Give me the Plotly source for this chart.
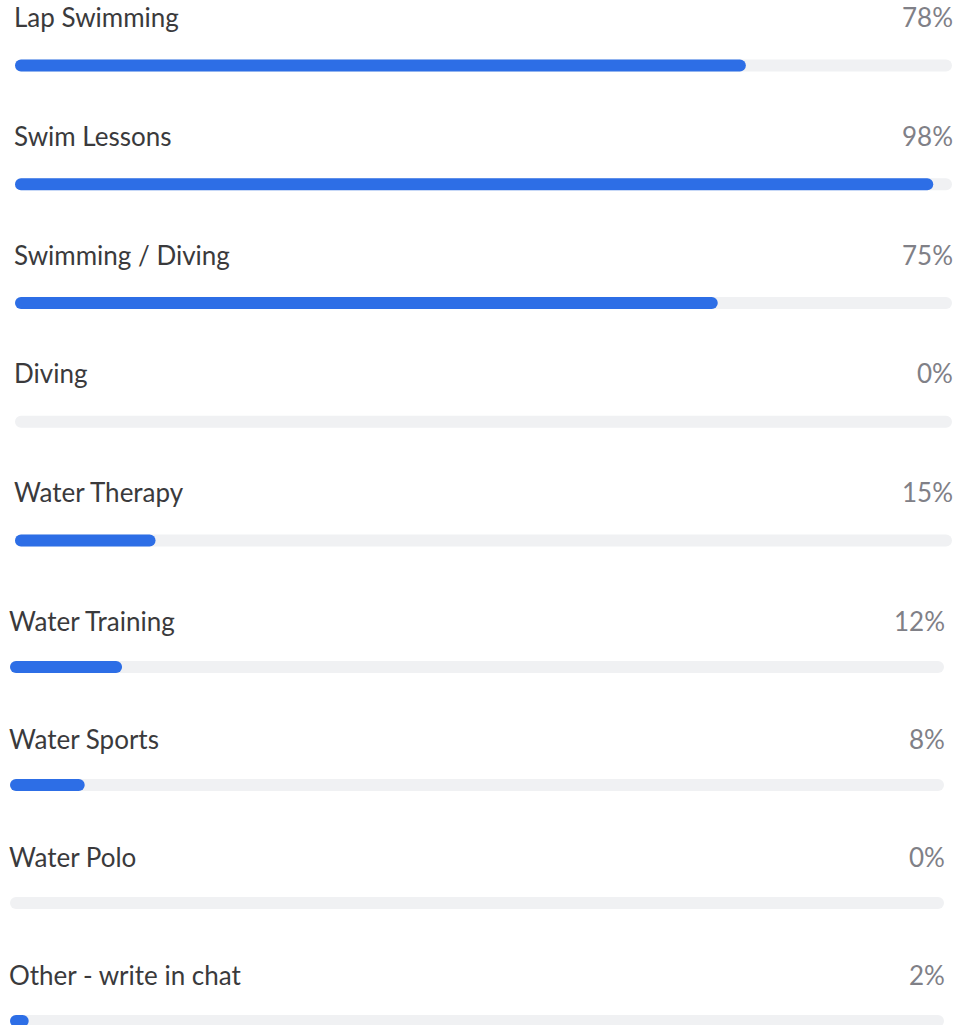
import plotly.graph_objects as go

# Poll options and their share of responses (%)
top_options = ["Lap Swimming", "Swim Lessons", "Swimming / Diving", "Diving", "Water Therapy"]
top_values = [78, 98, 75, 0, 15]
bottom_options = ["Water Training", "Water Sports", "Water Polo", "Other - write in chat"]
bottom_values = [12, 8, 0, 2]

W, H = 960, 1025
SPLIT = 590  # pixel row where the lower block of options starts
BLUE = "#2D6EE6"
TRACK = "#F0F1F3"
LABEL = "#3A3A3C"
PCT = "#808087"
FONT = "Lato, 'Open Sans', sans-serif"
BAR_H = 12

fig = go.Figure()


def add_group(options, values, first_y, step, label_gap, xaxis, yaxis):
    ys = [first_y + i * step for i in range(len(options))]

    for vals, color in (([100] * len(values), TRACK), (values, BLUE)):
        fig.add_trace(go.Bar(
            orientation="h", y=ys, x=vals, base=[0] * len(vals), width=BAR_H,
            xaxis=xaxis, yaxis=yaxis,
            marker=dict(color=color, cornerradius=BAR_H / 2, line=dict(width=0)),
            hoverinfo="skip", showlegend=False,
        ))

    for name, v, y in zip(options, values, ys):
        fig.add_annotation(x=0, y=y - label_gap, xref=xaxis, yref=yaxis, text=name,
                           xanchor="left", yanchor="middle", showarrow=False,
                           xshift=-3,
                           font=dict(family=FONT, size=26, color=LABEL))
        fig.add_annotation(x=100, y=y - label_gap, xref=xaxis, yref=yaxis, text=f"{v}%",
                           xanchor="right", yanchor="middle", showarrow=False,
                           xshift=3,
                           font=dict(family=FONT, size=26, color=PCT))


add_group(top_options, top_values, 65.5, 118.75, 48.5, "x", "y")
add_group(bottom_options, bottom_values, 667, 118, 46.5, "x2", "y2")

axis_common = dict(range=[0, 100], visible=False, fixedrange=True)
fig.update_layout(
    width=W, height=H,
    margin=dict(l=0, r=0, t=0, b=0),
    paper_bgcolor="white", plot_bgcolor="white",
    barmode="overlay",
    xaxis=dict(domain=[15 / W, 952 / W], anchor="y", **axis_common),
    xaxis2=dict(domain=[10 / W, 944 / W], anchor="y2", **axis_common),
    yaxis=dict(range=[SPLIT, 0], domain=[1 - SPLIT / H, 1], anchor="x",
               visible=False, fixedrange=True),
    yaxis2=dict(range=[H, SPLIT], domain=[0, 1 - SPLIT / H], anchor="x2",
                visible=False, fixedrange=True),
)

fig.write_html("out.html")
